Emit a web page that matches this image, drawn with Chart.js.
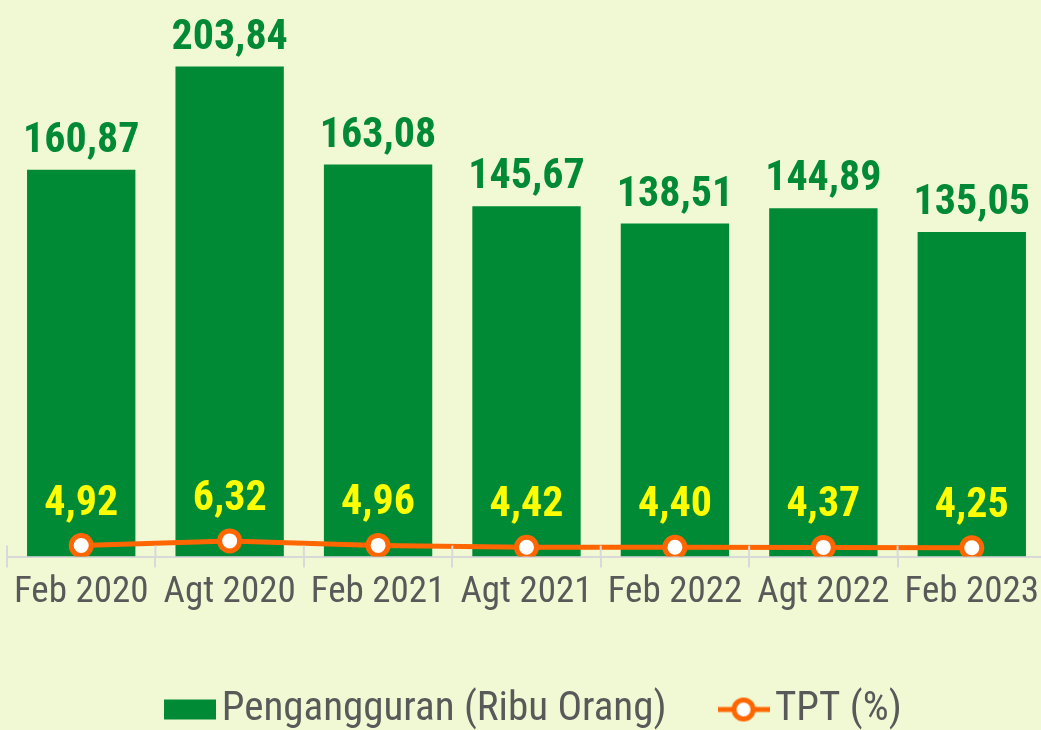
<!DOCTYPE html>
<html>
<head>
<meta charset="utf-8">
<script src="https://cdn.jsdelivr.net/npm/chart.js@4.4.0/dist/chart.umd.min.js"></script>
<style>
  html, body { margin: 0; padding: 0; background: #F1F9D4; overflow: hidden; }
  #wrap { width: 1046px; height: 730px; }
</style>
</head>
<body>
<div id="wrap"><canvas id="tptChart" width="1046" height="730"></canvas></div>
<script>
const periode = ['Feb 2020', 'Agt 2020', 'Feb 2021', 'Agt 2021', 'Feb 2022', 'Agt 2022', 'Feb 2023'];
const pengangguran = [160.87, 203.84, 163.08, 145.67, 138.51, 144.89, 135.05];
const tpt = [4.92, 6.32, 4.96, 4.42, 4.40, 4.37, 4.25];

const HIJAU = '#008A36';
const ORANYE = '#FF6600';
const NARROW = '"Liberation Sans Narrow", "Arial Narrow", "Roboto Condensed", sans-serif';

const fmt = v => v.toFixed(2).replace('.', ',');

// gambar legend: kotak hijau & garis oranye dengan lingkaran
function legendIcon(type) {
    const c = document.createElement('canvas');
    c.width = 52; c.height = 26;
    const g = c.getContext('2d');
    if (type === 'bar') {
        g.fillStyle = HIJAU;
        g.fillRect(0, 3, 52, 20);
    } else {
        g.strokeStyle = ORANYE;
        g.lineWidth = 5;
        g.beginPath(); g.moveTo(0, 13); g.lineTo(52, 13); g.stroke();
        g.beginPath(); g.arc(26, 13, 9.5, 0, Math.PI * 2);
        g.fillStyle = '#fff'; g.fill();
        g.stroke();
    }
    return c;
}

const labelPlugin = {
    id: 'labelPlugin',
    afterLayout(chart) {
        // geser legend sedikit ke kanan dan ke bawah
        chart.legend.left += 14;
        chart.legend.right += 14;
        chart.legend.top += 5;
        chart.legend.bottom += 5;
    },
    afterDatasetsDraw(chart) {
        const ctx = chart.ctx;
        ctx.save();
        ctx.textAlign = 'center';
        ctx.textBaseline = 'alphabetic';
        ctx.font = 'bold 42px ' + NARROW;
        chart.getDatasetMeta(1).data.forEach((bar, i) => {
            ctx.fillStyle = HIJAU;
            ctx.fillText(fmt(pengangguran[i]), bar.x, bar.y - 18);
        });
        chart.getDatasetMeta(0).data.forEach((pt, i) => {
            ctx.fillStyle = '#FFFF00';
            ctx.fillText(fmt(tpt[i]), pt.x, pt.y - 31);
        });
        ctx.restore();
    },
    afterDraw(chart) {
        // tanda tick di atas garis sumbu
        const x = chart.scales.x;
        const ctx = chart.ctx;
        const step = (x.right - x.left) / periode.length;
        ctx.save();
        ctx.strokeStyle = '#D9D9D9';
        ctx.lineWidth = 2;
        for (let i = 0; i <= periode.length; i++) {
            const px = x.left + i * step;
            ctx.beginPath();
            ctx.moveTo(px, x.top - 11);
            ctx.lineTo(px, x.top);
            ctx.stroke();
        }
        ctx.restore();
    }
};

const ctx = document.getElementById('tptChart');
new Chart(ctx, {
    data: {
        labels: periode,
        datasets: [{
            type: 'line',
            label: 'TPT (%)',
            data: tpt,
            yAxisID: 'y2',
            borderColor: ORANYE,
            borderWidth: 5,
            pointRadius: 10,
            pointBorderWidth: 5,
            pointBackgroundColor: '#fff',
            pointBorderColor: ORANYE,
            tension: 0,
            order: 0
        }, {
            type: 'bar',
            label: 'Pengangguran (Ribu Orang)',
            data: pengangguran,
            yAxisID: 'y',
            backgroundColor: HIJAU,
            categoryPercentage: 1,
            barPercentage: 0.73,
            order: 1
        }]
    },
    options: {
        responsive: false,
        animation: false,
        layout: { autoPadding: false, padding: { left: 7, right: 0, top: 0, bottom: -5 } },
        scales: {
            x: {
                offset: true,
                grid: { display: true, drawOnChartArea: false, offset: true, color: '#D9D9D9', lineWidth: 2, tickLength: 11 },
                border: { display: true, color: '#D9D9D9', width: 2 },
                ticks: { color: '#595959', font: { family: NARROW, size: 37 }, padding: 3, maxRotation: 0, autoSkip: false },
                afterFit(scale) { scale.paddingLeft = 0; scale.paddingRight = 0; }
            },
            y: { display: false, min: 0, max: 231.5 },
            y2: { display: false, min: 1.6, max: 168.9 }
        },
        plugins: {
            tooltip: { enabled: false },
            legend: {
                position: 'bottom',
                labels: {
                    usePointStyle: true,
                    pointStyleWidth: 22,
                    boxHeight: 26,
                    padding: 66,
                    color: '#595959',
                    font: { family: NARROW, size: 41 },
                    generateLabels() {
                        return [
                            { text: 'Pengangguran (Ribu Orang)', pointStyle: legendIcon('bar'), fillStyle: HIJAU, strokeStyle: HIJAU, lineWidth: 0, fontColor: '#595959', datasetIndex: 1 },
                            { text: 'TPT (%)', pointStyle: legendIcon('line'), fillStyle: '#fff', strokeStyle: ORANYE, lineWidth: 0, fontColor: '#595959', datasetIndex: 0 }
                        ];
                    }
                }
            }
        }
    },
    plugins: [labelPlugin]
});
</script>
</body>
</html>
